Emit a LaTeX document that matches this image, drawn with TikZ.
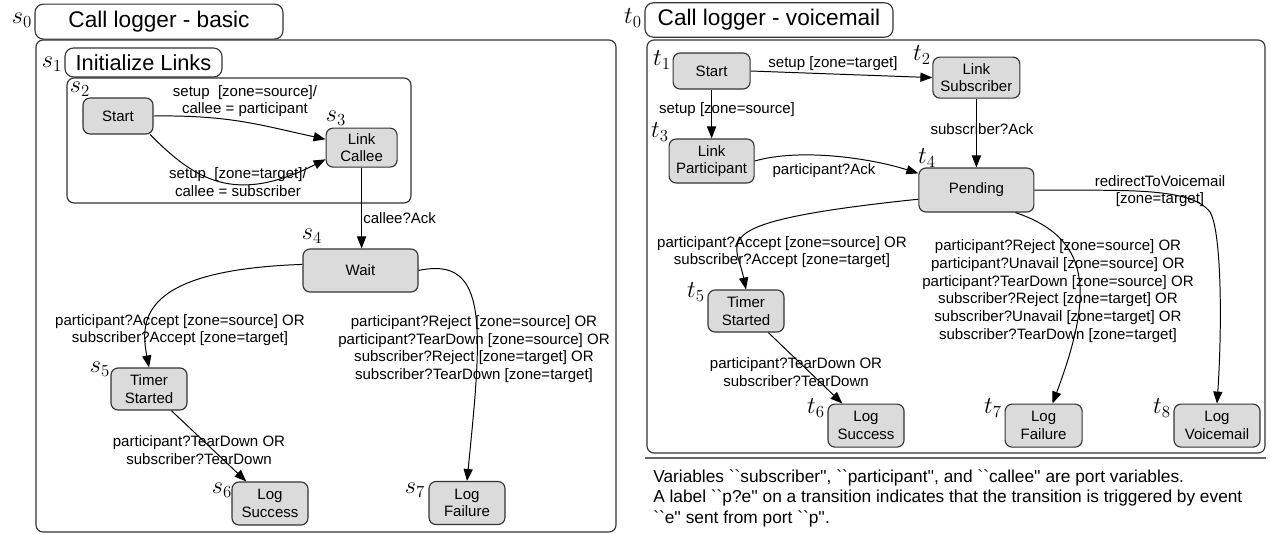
\documentclass[tikz,border=0pt]{standalone}
\usepackage{fontspec}
\setmainfont{Liberation Sans}
\newfontfamily\notefont{Liberation Sans}[Ligatures=TeXOff]
\usetikzlibrary{arrows.meta}

\newcommand{\lblfont}{\fontsize{10.7}{12.6}\selectfont}

\tikzset{
  state/.style={draw=black!80, line width=0.8pt, fill=black!14, rounded corners=5pt, align=center, font=\lblfont, inner sep=1pt, minimum width=1.9cm, minimum height=1.05cm},
  trans/.style={line width=0.7pt, -{Triangle[length=8.5pt,width=6.5pt]}},
  guard/.style={align=center, font=\lblfont, inner sep=0pt},
  tag/.style={font=\LARGE, inner sep=0pt},
  titlebox/.style={draw=black!80, line width=0.8pt, rounded corners=6pt, minimum width=6.2cm, minimum height=0.86cm, font={\fontsize{16.1}{18}\selectfont}, inner sep=0pt},
  frame/.style={draw=black!80, line width=0.8pt, rounded corners=5pt}
}

\begin{document}
\begin{tikzpicture}

\useasboundingbox (0,0) rectangle (31.75,-13.325);

\begin{scope}[xshift=0cm] {
\node[tag] (ls0) at (0.55,-0.5) {$s_0$};
\node[titlebox, minimum height=0.875cm] (sname) at (3.975,-0.54) {Call logger - basic};
\draw[frame] (0.9,-1.0) rectangle (15.4,-13.3);

\node[tag] (ls1) at (1.3,-1.6) {$s_1$};
\node[titlebox, minimum width=3.925cm, minimum height=0.725cm, font={\fontsize{15.5}{17}\selectfont}] (sinit) at (3.5875,-1.5625) {Initialize Links};
\draw[frame] (1.675,-1.95) rectangle (10.275,-5.075);

\node[tag] (ls2) at (2.0,-2.225) {$s_2$};
\node[state, minimum width=1.75cm, minimum height=0.9cm] (sstart) at (2.95,-2.9) {Start};
\node[tag] (ls3) at (8.4,-2.95) {$s_3$};
\node[state, minimum width=1.775cm, minimum height=0.975cm] (scallee) at (9.04,-3.69) {Link\\Callee};
\node[tag] (ls4) at (7.8,-5.9) {$s_4$};
\node[state, minimum width=2.875cm, minimum height=1.075cm] (swait) at (9.0125,-6.7625) {Wait};
\node[tag] (ls5) at (2.5,-9.225) {$s_5$};
\node[state] (stimer) at (3.725,-9.725) {Timer\\Started};
\node[tag] (ls6) at (5.55,-12.25) {$s_6$};
\node[state, minimum height=1.075cm] (ssucc) at (6.75,-12.5875) {Log\\Success};
\node[tag] (ls7) at (10.375,-12.25) {$s_7$};
\node[state, minimum height=1.075cm] (sfail) at (11.675,-12.575) {Log\\Failure};

\draw[trans] (sstart.east) .. controls (5.75,-2.875) and (6.5,-3.125) .. (scallee.167);
\draw[trans] (sstart.-30) .. controls (4.875,-4.5) and (5.875,-5.125) .. (scallee.-162);
\draw[trans] (scallee.south) -- (scallee.south |- swait.north);
\draw[trans] (swait.174) .. controls (3.5,-6.75) and (3.5,-8.0) .. (stimer.north);
\draw[trans] (stimer.-44) -- (ssucc.137);
\draw[trans] (swait.east) .. controls (12.25,-6.375) and (12.05,-8.25) .. (sfail.north);

\node[guard] (gsrc) at (6.125,-2.525) {setup\ \ [zone=source]/\\callee = participant};
\node[guard] (gtgt) at (5.95,-4.55) {setup\ \ [zone=target]/\\callee = subscriber};
\node[guard, anchor=west] (gack) at (9.075,-5.45) {callee?Ack};
\node[guard] (gacc) at (4.5,-8.25) {participant?Accept [zone=source] OR\\subscriber?Accept [zone=target]};
\node[guard] (gtear) at (4.975,-11.25) {participant?TearDown OR\\subscriber?TearDown};
\node[guard] (grej) at (11.85,-8.725) {participant?Reject [zone=source] OR\\participant?TearDown [zone=source] OR\\subscriber?Reject [zone=target] OR\\subscriber?TearDown [zone=target]};
}\end{scope}

\begin{scope}[xshift=16cm] {
\node[tag] (lt0) at (-0.175,-0.45) {$t_0$};
\node[titlebox] (tname) at (3.225,-0.5) {Call logger - voicemail};
\draw[frame] (0.175,-1.0) rectangle (15.625,-11.325);

\node[tag] (lt1) at (0.55,-1.5) {$t_1$};
\node[state, minimum width=1.925cm, minimum height=0.9cm] (tstart) at (1.79,-1.775) {Start};
\node[tag] (lt2) at (7.05,-1.375) {$t_2$};
\node[state, minimum width=2.175cm, minimum height=1.025cm] (tsub) at (8.41,-1.94) {Link\\Subscriber};
\node[tag] (lt3) at (0.5,-3.3) {$t_3$};
\node[state, minimum width=2.125cm, minimum height=1.1cm] (tpart) at (1.79,-4.025) {Link\\Participant};
\node[tag] (lt4) at (7.175,-3.95) {$t_4$};
\node[state, minimum width=2.875cm, minimum height=1.1cm] (tpend) at (8.41,-4.75) {Pending};
\node[tag] (lt5) at (1.4,-7.3) {$t_5$};
\node[state] (ttimer) at (2.65,-7.775) {Timer\\Started};
\node[tag] (lt6) at (4.4,-10.2) {$t_6$};
\node[state, minimum height=1.075cm] (tsucc) at (5.65,-10.64) {Log\\Success};
\node[tag] (lt7) at (8.825,-10.2) {$t_7$};
\node[state, minimum width=1.925cm, minimum height=1.075cm] (tfail) at (10.09,-10.64) {Log\\Failure};
\node[tag] (lt8) at (13.05,-10.2) {$t_8$};
\node[state, minimum width=2.15cm, minimum height=1.075cm] (tvoice) at (14.425,-10.64) {Log\\Voicemail};

\draw[trans] (tstart.east) -- (tsub.west);
\draw[trans] (tstart.south) -- (tpart.north);
\draw[trans] (tsub.south) -- (tpend.north);
\draw[trans] (tpart.east) .. controls (4.0,-3.7) and (5.75,-3.95) .. (tpend.164);
\draw[trans] (tpend.189) .. controls (1.5,-5.55) and (2.4,-6.0) .. (ttimer.north);
\draw[trans] (ttimer.-44) -- (tsucc.137);
\draw[trans] (tpend.-30) .. controls (11.25,-5.95) and (11.375,-7.25) .. (tfail.68);
\draw[trans] (tpend.east) .. controls (12.0,-4.775) and (13.75,-4.65) .. (14.25,-5.3) .. controls (14.55,-5.8) and (14.55,-8.25) .. (tvoice.north);

\node[guard] (htgt) at (4.825,-1.6) {setup [zone=target]};
\node[guard] (hsrc) at (2.175,-2.75) {setup [zone=source]};
\node[guard] (hsub) at (8.55,-3.225) {subscriber?Ack};
\node[guard] (hpart) at (4.6,-4.275) {participant?Ack};
\node[guard] (hacc) at (3.55,-6.3) {participant?Accept [zone=source] OR\\subscriber?Accept [zone=target]};
\node[guard] (htear) at (3.9,-9.3) {participant?TearDown OR\\subscriber?TearDown};
\node[guard] (hrej) at (10.45,-7.275) {participant?Reject [zone=source] OR\\participant?Unavail [zone=source] OR\\participant?TearDown [zone=source] OR\\subscriber?Reject [zone=target] OR\\subscriber?Unavail [zone=target] OR\\subscriber?TearDown [zone=target]};
\node[guard] (hvoice) at (13.0,-4.775) {redirectToVoicemail\\{}[zone=target]};

\draw[black!60, line width=1.2pt] (0.125,-11.45) -- (15.65,-11.45);
\node[anchor=west, align=left, inner sep=0pt, font={\notefont\fontsize{12.3}{14.6}\selectfont}] (note) at (0.325,-12.45) {Variables ``subscriber'', ``participant'', and ``callee'' are port variables.\\A label ``p?e'' on a transition indicates that the transition is triggered by event\\``e'' sent from port ``p''.};
}\end{scope}

\end{tikzpicture}
\end{document}
